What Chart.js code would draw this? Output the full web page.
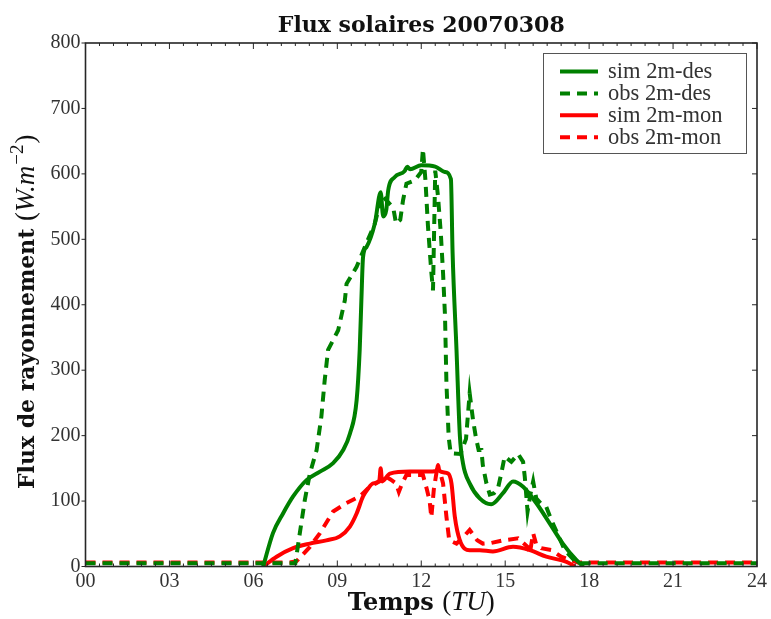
<!DOCTYPE html>
<html>
<head>
<meta charset="utf-8">
<script src="https://cdn.jsdelivr.net/npm/chart.js@4.4.1/dist/chart.umd.min.js"></script>
<style>
  html, body { margin: 0; padding: 0; background: #fff; }
  canvas { display: block; }
</style>
</head>
<body>
<canvas id="chart" width="771" height="619"></canvas>
<script>
// texts
const chartTitle = 'Flux solaires 20070308';
const xTitle = [['Temps ', 'bx'], ['(', 'r'], ['TU', 'i'], [')', 'r']];
const yTitle = [['Flux de rayonnement ', 'b'], ['(', 'r'], ['W.m', 'i'], ['\u22122', 'sup'], [')', 'r']];
const seriesNames = ['sim 2m-des', 'obs 2m-des', 'sim 2m-mon', 'obs 2m-mon'];

// axes (hours TU, W.m-2)
const xMin = 0, xMax = 24, xMajor = 3, xMinor = 0.5;
const yMin = 0, yMax = 800, yStep = 100;

// simulation, 2m desert
const simDesT = [6.35, 6.7, 7.06, 7.42, 7.9, 8.38, 8.85, 9.21, 9.45, 9.69, 9.8, 9.86, 9.92, 10.04, 10.34, 10.55,
  10.64, 10.75, 10.82, 11.05, 11.4, 11.5, 11.6, 12.0, 12.5, 12.84, 13.06, 13.12, 13.26, 13.38, 13.49, 13.73,
  14.09, 14.5, 14.92, 15.28, 15.64, 16.11, 16.59, 17.06, 17.54, 17.8];
const simDesV = [0, 51, 81, 107, 132, 145, 158, 178, 203, 254, 331, 407, 473, 488, 524, 572,
  535, 545, 575, 595, 604, 611, 607, 613, 611, 603, 592, 480, 331, 200, 158, 127,
  104, 95, 112, 130, 122, 97, 66, 35, 10, 0];

// observation, 2m desert
const obsDesT = [0, 7.5, 7.66, 7.84, 8.02, 8.26, 8.43, 8.55, 8.67, 8.85, 9.03, 9.27, 9.33, 9.69, 10.04, 10.34,
  10.46, 10.58, 10.75, 11.0, 11.1, 11.25, 11.35, 11.47, 11.77, 12.0, 12.06, 12.15, 12.24, 12.36, 12.42,
  12.5, 12.6, 12.7, 12.78, 12.85, 12.9, 12.98, 13.05, 13.4, 13.6, 13.73, 13.85, 13.95, 14.05, 14.15, 14.2,
  14.33, 14.45, 14.6, 14.74, 14.86, 14.98, 15.22, 15.46, 15.64, 15.7, 15.8, 15.9, 16.0, 16.11, 16.3, 16.47,
  16.65, 17.13, 17.5, 17.7, 24];
const obsDesV = [5, 5, 51, 102, 142, 178, 229, 285, 331, 346, 361, 407, 432, 458, 494, 524,
  544, 568, 560, 548, 524, 530, 560, 585, 590, 603, 638, 590, 520, 450, 422,
  605, 565, 509, 448, 382, 280, 198, 173, 172, 195, 265, 224, 198, 178, 178, 155,
  127, 110, 112, 119, 142, 168, 160, 172, 160, 137, 84, 110, 130, 104, 95, 91,
  71, 25, 8, 5, 5];

// simulation, 2m mountain
const simMonT = [6.35, 6.83, 7.42, 8.02, 8.61, 9.09, 9.45, 9.69, 9.92, 10.1, 10.28, 10.5, 10.55, 10.6, 10.88,
  11.59, 12.19, 12.55, 12.6, 12.65, 12.96, 13.08, 13.2, 13.38, 13.73, 14.09, 14.56, 15.28, 15.88, 16.47,
  17.19, 17.5];
const simMonV = [0, 15, 28, 35, 40, 46, 61, 81, 107, 119, 127, 131, 150, 130, 142,
  145, 145, 146, 155, 146, 142, 127, 76, 40, 25, 25, 23, 30, 25, 15,
  7, 0];

// observation, 2m mountain
const obsMonT = [0, 7.3, 7.54, 8.02, 8.38, 8.85, 9.33, 9.8, 10.16, 10.5, 10.63, 10.9, 11.1, 11.2, 11.3, 11.47,
  11.8, 12.06, 12.2, 12.3, 12.36, 12.45, 12.55, 12.7, 12.78, 12.9, 13.0, 13.26, 13.5, 13.73, 14.0, 14.2,
  14.5, 14.92, 15.46, 15.8, 15.88, 16.0, 16.1, 16.29, 16.65, 17.0, 17.6, 24];
const obsMonV = [6, 6, 8, 30, 51, 84, 97, 107, 122, 130, 140, 133, 127, 114, 125, 140,
  140, 140, 118, 100, 75, 118, 145, 140, 127, 76, 40, 35, 45, 56, 40, 35,
  36, 40, 43, 30, 20, 51, 35, 28, 25, 15, 6, 6];

const green = '#008000', red = '#ff0000';
const serif = '"Liberation Serif", "Times New Roman", serif';
const fonts = {
  b: 'bold 22px "DejaVu Serif", serif',
  bx: 'bold 24px "DejaVu Serif", serif',
  r: '27px ' + serif,
  i: 'italic 27px ' + serif,
  sup: '19px ' + serif
};

function pts(t, v) {
  return t.map((x, i) => ({ x: x, y: v[i] }));
}

function drawMixed(ctx, segs, cx, base) {
  let total = 0;
  segs.forEach(s => { ctx.font = fonts[s[1]]; total += ctx.measureText(s[0]).width + (s[1] === 'sup' ? 2 : 0); });
  let x = cx - total / 2;
  segs.forEach(s => {
    ctx.font = fonts[s[1]];
    if (s[1] === 'sup') x += 1;
    ctx.fillText(s[0], x, s[1] === 'sup' ? base - 11 : base);
    x += ctx.measureText(s[0]).width + (s[1] === 'sup' ? 1 : 0);
  });
}

const decor = {
  id: 'decor',
  afterDraw(chart) {
    const ctx = chart.ctx, a = chart.chartArea, x = chart.scales.x, y = chart.scales.y;
    ctx.save();
    ctx.strokeStyle = '#262626';
    ctx.lineWidth = 1;
    const seg = (x1, y1, x2, y2) => { ctx.beginPath(); ctx.moveTo(x1, y1); ctx.lineTo(x2, y2); ctx.stroke(); };
    x.ticks.forEach(t => {
      const px = x.getPixelForValue(t.value);
      const len = t.value % xMajor === 0 ? 6 : 3;
      seg(px, a.bottom, px, a.bottom - len);
      seg(px, a.top, px, a.top + len);
    });
    y.ticks.forEach(t => {
      const py = y.getPixelForValue(t.value);
      seg(a.left - 4, py, a.left, py);
      seg(a.right - 5, py, a.right, py);
    });
    ctx.lineWidth = 1.6;
    ctx.strokeRect(a.left, a.top, a.right - a.left, a.bottom - a.top);

    // legend
    const lx = 543, ly = 53, lw = 203, lh = 100;
    ctx.fillStyle = '#fff';
    ctx.fillRect(lx, ly, lw, lh);
    ctx.strokeStyle = '#555';
    ctx.lineWidth = 1;
    ctx.strokeRect(lx + 0.5, ly + 0.5, lw, lh);
    ctx.font = '22.5px ' + serif;
    ctx.textBaseline = 'alphabetic';
    chart.data.datasets.forEach((ds, i) => {
      const cy = 71.5 + i * 21.9;
      ctx.strokeStyle = ds.borderColor;
      ctx.lineWidth = ds.borderWidth;
      ctx.setLineDash(ds.borderDash || []);
      seg(560, cy, 598, cy);
      ctx.setLineDash([]);
      ctx.fillStyle = '#333';
      ctx.fillText(ds.label, 608, cy + 6.5);
    });

    // titles
    ctx.fillStyle = '#111';
    ctx.textAlign = 'left';
    ctx.font = fonts.b;
    const tw = ctx.measureText(chartTitle).width;
    ctx.fillText(chartTitle, (a.left + a.right) / 2 - tw / 2, 32);
    drawMixed(ctx, xTitle, (a.left + a.right) / 2, 610);
    ctx.translate(34, (a.top + a.bottom) / 2 + 7);
    ctx.rotate(-Math.PI / 2);
    drawMixed(ctx, yTitle, 0, 0);
    ctx.restore();
  }
};

new Chart(document.getElementById('chart').getContext('2d'), {
  type: 'line',
  data: {
    datasets: [
      { label: seriesNames[0], data: pts(simDesT, simDesV), borderColor: green, borderWidth: 4,
        cubicInterpolationMode: 'monotone', borderJoinStyle: 'round' },
      { label: seriesNames[1], data: pts(obsDesT, obsDesV), borderColor: green, borderWidth: 4,
        borderDash: [10, 7], tension: 0 },
      { label: seriesNames[2], data: pts(simMonT, simMonV), borderColor: red, borderWidth: 4,
        cubicInterpolationMode: 'monotone', borderJoinStyle: 'round' },
      { label: seriesNames[3], data: pts(obsMonT, obsMonV), borderColor: red, borderWidth: 4,
        borderDash: [10, 7], tension: 0 }
    ]
  },
  options: {
    responsive: false,
    animation: false,
    devicePixelRatio: 1,
    layout: { padding: { top: 43, right: 14, left: 0, bottom: 0 } },
    elements: { point: { radius: 0 } },
    plugins: { legend: { display: false }, title: { display: false }, tooltip: { enabled: false } },
    scales: {
      x: {
        type: 'linear', min: xMin, max: xMax,
        grid: { display: false, drawTicks: false }, border: { display: false },
        ticks: {
          stepSize: xMinor, autoSkip: false, maxRotation: 0, padding: 3,
          color: '#333', font: { family: serif, size: 20 },
          callback: v => (v % xMajor === 0 ? String(v).padStart(2, '0') : '')
        },
        afterFit: s => { s.height = 52.5; }
      },
      y: {
        min: yMin, max: yMax,
        grid: { display: false, drawTicks: false }, border: { display: false },
        ticks: { stepSize: yStep, padding: 5, color: '#333', font: { family: serif, size: 20 } },
        afterFit: s => { s.width = 85.5; }
      }
    }
  },
  plugins: [decor]
});
</script>
</body>
</html>
